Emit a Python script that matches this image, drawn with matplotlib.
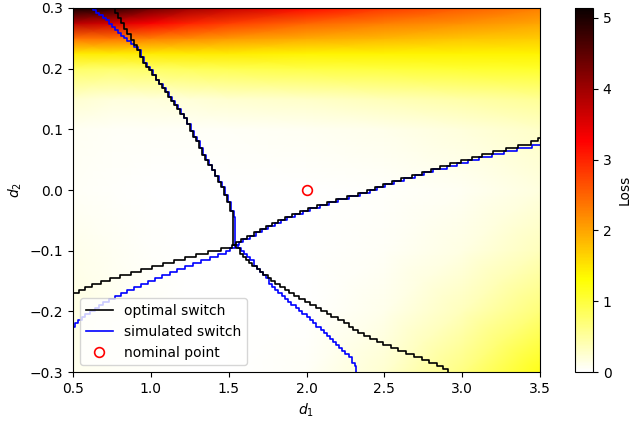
import matplotlib
matplotlib.use("Agg")
import matplotlib.pyplot as plt
import numpy as np

# loss surface (rows follow d2, columns follow d1)
grid_d1 = [0.5, 0.75, 1.0, 1.25, 1.5, 2.0, 2.5, 3.0, 3.5]
grid_d2 = [-0.3, -0.2, -0.1, 0.0, 0.1, 0.15, 0.2, 0.225, 0.25, 0.275, 0.3]
loss = [
    [0.10, 0.05, 0.03, 0.02, 0.02, 0.05, 0.25, 0.65, 1.20],
    [0.15, 0.10, 0.05, 0.02, 0.01, 0.02, 0.12, 0.35, 0.70],
    [0.12, 0.08, 0.04, 0.02, 0.01, 0.01, 0.05, 0.15, 0.35],
    [0.06, 0.04, 0.02, 0.01, 0.01, 0.01, 0.03, 0.08, 0.18],
    [0.08, 0.06, 0.05, 0.05, 0.06, 0.08, 0.12, 0.20, 0.30],
    [0.25, 0.20, 0.20, 0.22, 0.25, 0.30, 0.38, 0.45, 0.55],
    [0.80, 0.75, 0.80, 0.85, 0.90, 0.95, 1.00, 1.05, 1.10],
    [1.45, 1.45, 1.45, 1.45, 1.45, 1.40, 1.40, 1.40, 1.40],
    [2.40, 2.40, 2.30, 2.20, 2.10, 1.95, 1.85, 1.75, 1.70],
    [3.80, 3.60, 3.30, 3.00, 2.80, 2.50, 2.30, 2.15, 2.00],
    [5.10, 4.90, 4.40, 4.00, 3.70, 3.20, 2.85, 2.55, 2.30],
]
loss_max = 5.14

# optimal switching boundary (four branches meeting near d1=1.53, d2=-0.09)
opt_steep_d1 = [0.75, 0.77, 0.79, 0.81, 0.83, 0.85, 0.87, 0.89, 0.91, 0.93, 0.95, 0.97,
                0.99, 1.01, 1.03, 1.05, 1.07, 1.09, 1.11, 1.13, 1.15, 1.17, 1.19, 1.21,
                1.23, 1.25, 1.27, 1.29, 1.31, 1.33, 1.35, 1.37, 1.39, 1.41, 1.43, 1.45,
                1.47, 1.49, 1.51, 1.53, 1.53]
opt_steep_d2 = [0.300, 0.292, 0.283, 0.275, 0.266, 0.257, 0.248, 0.239, 0.230, 0.220, 0.210,
                0.202, 0.197, 0.190, 0.182, 0.175, 0.168, 0.161, 0.154, 0.146, 0.140, 0.133,
                0.126, 0.118, 0.108, 0.098, 0.088, 0.080, 0.070, 0.058, 0.050, 0.042, 0.033,
                0.023, 0.014, 0.005, -0.008, -0.020, -0.035, -0.045, -0.090]
opt_left_d1 = [0.50, 0.54, 0.58, 0.62, 0.68, 0.74, 0.80, 0.87, 0.94, 1.01, 1.08, 1.15,
               1.22, 1.29, 1.37, 1.45, 1.52, 1.53]
opt_left_d2 = [-0.170, -0.165, -0.160, -0.155, -0.150, -0.145, -0.140, -0.135, -0.130, -0.125,
               -0.120, -0.115, -0.110, -0.105, -0.100, -0.095, -0.090, -0.090]
opt_right_d1 = [1.53, 1.55, 1.58, 1.62, 1.66, 1.70, 1.74, 1.78, 1.82, 1.86, 1.91, 1.96,
                2.01, 2.07, 2.13, 2.19, 2.26, 2.33, 2.39, 2.44, 2.49, 2.55, 2.61, 2.68,
                2.74, 2.80, 2.86, 2.92, 2.99, 3.06, 3.13, 3.20, 3.28, 3.36, 3.44, 3.49, 3.50]
opt_right_d2 = [-0.090, -0.085, -0.080, -0.075, -0.070, -0.065, -0.060, -0.055, -0.050,
                -0.045, -0.040, -0.035, -0.030, -0.025, -0.020, -0.015, -0.010, -0.005,
                0.000, 0.005, 0.010, 0.015, 0.020, 0.025, 0.030, 0.035, 0.040, 0.045,
                0.050, 0.055, 0.060, 0.065, 0.070, 0.075, 0.080, 0.085, 0.085]
opt_low_d1 = [1.53, 1.55, 1.57, 1.59, 1.61, 1.63, 1.65, 1.68, 1.70, 1.72, 1.75, 1.77,
              1.80, 1.83, 1.86, 1.89, 1.92, 1.95, 1.99, 2.02, 2.06, 2.09, 2.13, 2.16,
              2.20, 2.24, 2.27, 2.30, 2.33, 2.37, 2.41, 2.45, 2.49, 2.54, 2.59, 2.64,
              2.69, 2.74, 2.79, 2.84, 2.88, 2.91]
opt_low_d2 = [-0.090, -0.095, -0.105, -0.110, -0.115, -0.120, -0.125, -0.130, -0.135,
              -0.140, -0.145, -0.150, -0.155, -0.160, -0.165, -0.170, -0.175, -0.180,
              -0.185, -0.190, -0.195, -0.200, -0.205, -0.210, -0.215, -0.220, -0.225,
              -0.230, -0.235, -0.240, -0.245, -0.250, -0.255, -0.260, -0.265, -0.270,
              -0.275, -0.280, -0.285, -0.290, -0.295, -0.300]

# simulated switching boundary
sim_steep_d1 = [0.61, 0.63, 0.65, 0.67, 0.69, 0.71, 0.73, 0.75, 0.77, 0.79, 0.81, 0.83,
                0.85, 0.87, 0.89, 0.915, 0.935, 0.955, 0.975, 0.995, 1.015, 1.035, 1.055,
                1.075, 1.095, 1.115, 1.135, 1.155, 1.175, 1.195, 1.215, 1.235, 1.255,
                1.275, 1.295, 1.315, 1.335, 1.355, 1.375, 1.395, 1.415, 1.435, 1.455,
                1.475, 1.495, 1.515, 1.535, 1.54]
sim_steep_d2 = [0.300, 0.296, 0.292, 0.289, 0.284, 0.280, 0.274, 0.268, 0.263, 0.259, 0.254,
                0.250, 0.245, 0.240, 0.235, 0.230, 0.220, 0.210, 0.202, 0.197, 0.190, 0.182,
                0.175, 0.168, 0.161, 0.154, 0.146, 0.140, 0.133, 0.126, 0.118, 0.108, 0.098,
                0.088, 0.080, 0.070, 0.058, 0.050, 0.042, 0.033, 0.023, 0.014, 0.005,
                -0.008, -0.020, -0.035, -0.045, -0.090]
sim_left_d1 = [0.50, 0.51, 0.53, 0.555, 0.58, 0.61, 0.64, 0.665, 0.695, 0.73, 0.77, 0.81,
               0.85, 0.89, 0.935, 0.98, 1.025, 1.07, 1.12, 1.17, 1.22, 1.27, 1.32, 1.38,
               1.43, 1.48, 1.51, 1.54]
sim_left_d2 = [-0.225, -0.220, -0.215, -0.210, -0.205, -0.200, -0.195, -0.190, -0.185,
               -0.180, -0.175, -0.170, -0.165, -0.160, -0.155, -0.150, -0.145, -0.140,
               -0.135, -0.130, -0.125, -0.120, -0.115, -0.110, -0.105, -0.100, -0.095,
               -0.090]
sim_right_d1 = [1.54, 1.565, 1.595, 1.635, 1.675, 1.715, 1.755, 1.795, 1.835, 1.875, 1.925,
                1.975, 2.025, 2.085, 2.145, 2.205, 2.275, 2.345, 2.405, 2.455, 2.505,
                2.565, 2.625, 2.695, 2.755, 2.815, 2.90, 2.97, 3.04, 3.11, 3.19, 3.27,
                3.35, 3.45, 3.50]
sim_right_d2 = [-0.090, -0.085, -0.080, -0.075, -0.070, -0.065, -0.060, -0.055, -0.050,
                -0.045, -0.040, -0.035, -0.030, -0.025, -0.020, -0.015, -0.010, -0.005,
                0.000, 0.005, 0.010, 0.015, 0.020, 0.025, 0.030, 0.035, 0.040, 0.045,
                0.050, 0.055, 0.060, 0.065, 0.070, 0.075, 0.075]
sim_low_d1 = [1.54, 1.56, 1.58, 1.60, 1.62, 1.64, 1.66, 1.68, 1.70, 1.72, 1.74, 1.76,
              1.78, 1.80, 1.82, 1.84, 1.86, 1.88, 1.90, 1.93, 1.95, 1.97, 2.00, 2.02,
              2.04, 2.06, 2.09, 2.11, 2.13, 2.15, 2.17, 2.19, 2.21, 2.23, 2.25, 2.27,
              2.29, 2.31, 2.32]
sim_low_d2 = [-0.090, -0.095, -0.100, -0.105, -0.110, -0.115, -0.125, -0.130, -0.135,
              -0.140, -0.145, -0.155, -0.160, -0.165, -0.170, -0.175, -0.180, -0.185,
              -0.190, -0.195, -0.200, -0.205, -0.210, -0.215, -0.220, -0.225, -0.230,
              -0.235, -0.240, -0.245, -0.250, -0.255, -0.260, -0.265, -0.270, -0.275,
              -0.285, -0.290, -0.300]

nominal = (2.0, 0.0)

fig = plt.figure(figsize=(6.32, 4.21), dpi=100)
ax = fig.add_axes([73 / 632, 49 / 421, 467 / 632, 364 / 421])
cax = fig.add_axes([575 / 632, 49 / 421, 18 / 632, 364 / 421])

mesh = ax.pcolormesh(grid_d1, grid_d2, np.array(loss), shading="gouraud",
                     cmap="hot_r", vmin=0, vmax=loss_max)

for d1, d2 in [(sim_steep_d1, sim_steep_d2), (sim_left_d1, sim_left_d2),
               (sim_right_d1, sim_right_d2), (sim_low_d1, sim_low_d2)]:
    ax.plot(d1, d2, color="blue", lw=1.2, drawstyle="steps-post")
for d1, d2 in [(opt_steep_d1, opt_steep_d2), (opt_left_d1, opt_left_d2),
               (opt_right_d1, opt_right_d2), (opt_low_d1, opt_low_d2)]:
    ax.plot(d1, d2, color="black", lw=1.2, drawstyle="steps-post")

ax.plot(*nominal, "o", mfc="none", mec="red", ms=7, mew=1.2)

h_opt, = ax.plot([], [], color="black", lw=1.2, label="optimal switch")
h_sim, = ax.plot([], [], color="blue", lw=1.2, label="simulated switch")
h_nom, = ax.plot([], [], "o", mfc="none", mec="red", ms=7, mew=1.2, label="nominal point")
ax.legend(handles=[h_opt, h_sim, h_nom], loc="lower left")

ax.set_xlim(0.5, 3.5)
ax.set_ylim(-0.3, 0.3)
ax.set_xlabel("$d_1$")
ax.set_ylabel("$d_2$")

fig.colorbar(mesh, cax=cax, label="Loss")

fig.savefig("out.png", dpi=100)
